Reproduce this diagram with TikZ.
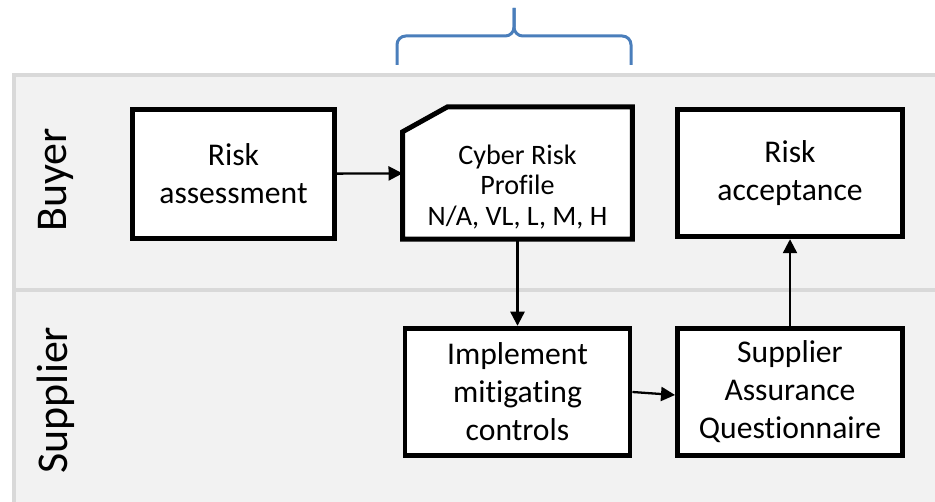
\documentclass[tikz,border=0pt]{standalone}
\usepackage{fontspec}
\setmainfont[RawFeature={-liga;-clig;-calt}]{Carlito}
\usetikzlibrary{arrows.meta}
\definecolor{lanefill}{RGB}{242,242,242}
\definecolor{laneline}{RGB}{217,217,217}
\definecolor{bracecol}{RGB}{74,126,187}

\begin{document}
\begin{tikzpicture}[x=0.02cm,y=-0.02cm,
    >={Triangle[length=8pt,width=8pt]},
    task/.style={rectangle,draw,line width=2.8pt,fill=white,minimum width=4.5cm,minimum height=2.55cm,
        align=center,inner sep=2pt,font=\fontsize{18}{21.6}\selectfont},
    lane/.style={rotate=90,font=\fontsize{25}{30}\selectfont},
    flow/.style={->,line width=1.3pt}]
                    \useasboundingbox (0,0) rectangle (935,502);

                    % swim lanes
                    \fill[lanefill] (14,75) rectangle (935,502);
                    \draw[laneline,line width=2.8pt] (935,75) -- (14,75) -- (14,502);
                    \draw[laneline,line width=2.8pt] (14,290) -- (935,290);

                    % brace over the risk profile
                    \draw[bracecol,line width=1.7pt,rounded corners=5pt] (397,65) -- (397,36) -- (514,36) -- (514,8);
                    \draw[bracecol,line width=1.7pt,rounded corners=5pt] (631,65) -- (631,36) -- (514,36) -- (514,8);

                    \path
                    (56,180) node[lane](buyer) {Buyer}
                    (56,400) node[lane](supplier) {Supplier}
                    (233.5,174) node[task,minimum width=4.05cm,minimum height=2.59cm](ra) {Risk\\assessment}
                    (517.5,173) node[task,draw=none,fill=none](crp) {}
                    (790,173) node[task](acc) {Risk\\acceptance}
                    (517.5,392) node[task](impl) {Implement\\mitigating\\controls}
                    (790,392) node[task](saq) {Supplier\\Assurance\\Questionnaire};

                    \draw[line width=2.8pt,fill=white] (crp.south west) -- ([yshift=-0.5cm]crp.north west)
                        -- ([xshift=0.9cm]crp.north west) -- (crp.north east) -- (crp.south east) -- cycle;
                    \node[font=\fontsize{16}{17.6}\selectfont,align=center](crptext) at (517.5,187) {Cyber Risk\\Profile\\N/A, VL, L, M, H};

                    \draw[flow] (ra) -- (crp);
                    \draw[flow] (crp) -- (impl);
                    \draw[flow] (impl.east) -- ([yshift=-0.06cm]saq.west);
                    \draw[flow] (saq) -- (acc);
                \end{tikzpicture}
\end{document}
